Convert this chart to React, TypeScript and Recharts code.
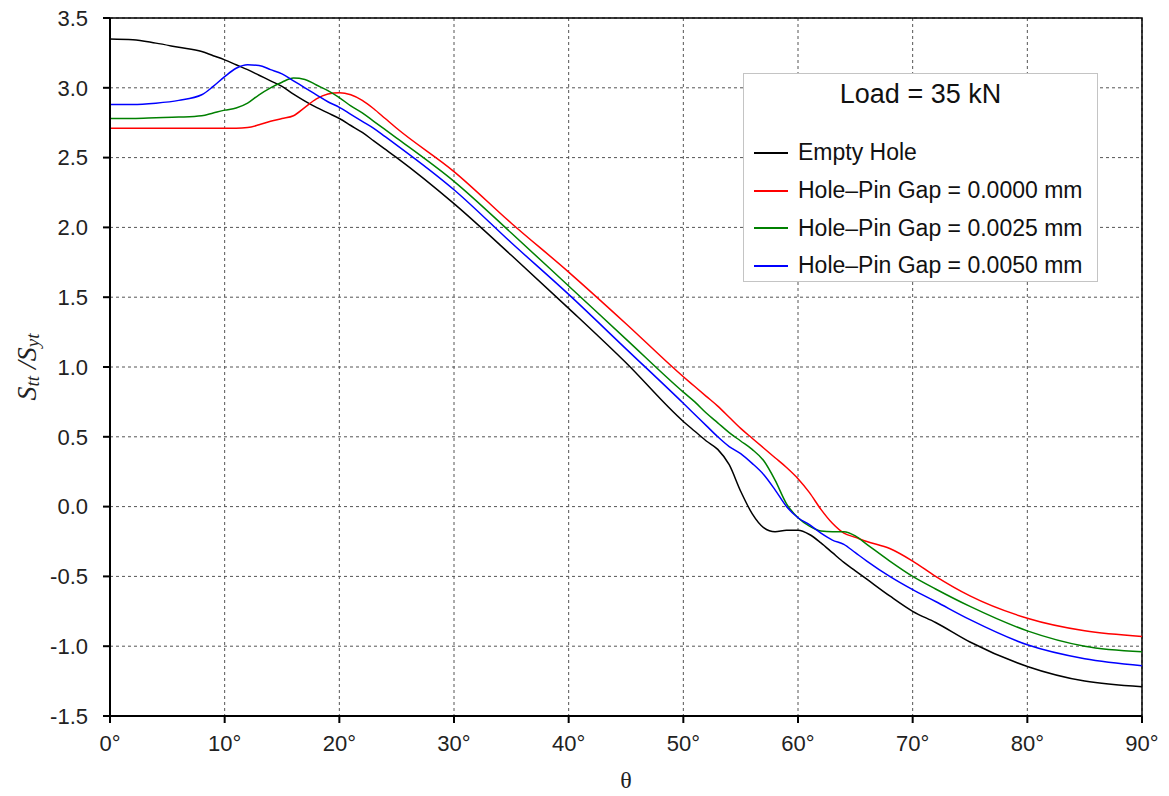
import {
  CartesianGrid,
  Legend,
  Line,
  LineChart,
  ReferenceArea,
  XAxis,
  YAxis,
} from "recharts";

// angle θ in degrees
const angles = [
  0, 2, 4, 6, 8, 9, 10, 11, 12, 13, 14, 15, 16, 17, 18, 19, 20, 21, 22, 23, 24, 25,
  30, 35, 40, 45, 50, 51, 52, 53, 54, 55, 56, 57, 58, 59, 60, 61, 62, 63, 64, 65, 66,
  68, 70, 72, 75, 80, 85, 90,
];

const emptyHole = [
  3.35, 3.345, 3.32, 3.29, 3.26, 3.23, 3.2, 3.165, 3.13, 3.09, 3.05, 3.01, 2.955, 2.905,
  2.86, 2.82, 2.78, 2.73, 2.68, 2.62, 2.56, 2.5, 2.17, 1.8, 1.42, 1.03, 0.61, 0.54,
  0.47, 0.41, 0.3, 0.11, -0.05, -0.15, -0.18, -0.17, -0.17, -0.2, -0.26, -0.33, -0.4,
  -0.46, -0.52, -0.64, -0.75, -0.83, -0.97, -1.145, -1.25, -1.29,
];

const gap0000 = [
  2.71, 2.71, 2.71, 2.71, 2.71, 2.71, 2.71, 2.71, 2.715, 2.735, 2.76, 2.78, 2.8, 2.86,
  2.92, 2.955, 2.965, 2.95, 2.91, 2.85, 2.78, 2.71, 2.4, 2.03, 1.68, 1.31, 0.93, 0.86,
  0.79, 0.72, 0.64, 0.56, 0.49, 0.42, 0.35, 0.28, 0.2, 0.1, -0.02, -0.12, -0.19,
  -0.22, -0.25, -0.3, -0.39, -0.5, -0.64, -0.8, -0.89, -0.93,
];

const gap0025 = [
  2.78, 2.78, 2.785, 2.79, 2.8, 2.82, 2.84, 2.855, 2.89, 2.95, 3.0, 3.04, 3.07, 3.06,
  3.02, 2.98, 2.93, 2.87, 2.82, 2.76, 2.7, 2.64, 2.33, 1.96, 1.58, 1.2, 0.82, 0.75,
  0.67, 0.6, 0.53, 0.47, 0.41, 0.33, 0.19, 0.02, -0.08, -0.14, -0.175, -0.18, -0.18,
  -0.21, -0.27, -0.39, -0.5, -0.59, -0.715, -0.89, -1.0, -1.04,
];

const gap0050 = [
  2.88, 2.88, 2.89, 2.91, 2.95, 3.01, 3.08, 3.14, 3.165, 3.16, 3.13, 3.1, 3.05, 3.0,
  2.95, 2.9, 2.86, 2.81, 2.76, 2.71, 2.65, 2.59, 2.27, 1.89, 1.52, 1.13, 0.74, 0.66,
  0.58, 0.5, 0.43, 0.38, 0.31, 0.23, 0.12, 0.0, -0.08, -0.13, -0.19, -0.24, -0.27,
  -0.33, -0.39, -0.5, -0.595, -0.68, -0.81, -0.99, -1.09, -1.14,
];

const xTicks = [0, 10, 20, 30, 40, 50, 60, 70, 80, 90];
const yTicks = [-1.5, -1, -0.5, 0, 0.5, 1, 1.5, 2, 2.5, 3, 3.5];

const data = angles.map((a, i) => ({
  angle: a,
  empty: emptyHole[i],
  g0000: gap0000[i],
  g0025: gap0025[i],
  g0050: gap0050[i],
}));

const sans = "'Liberation Sans', Arial, sans-serif";
const serif = "'Liberation Serif', 'Times New Roman', serif";

function YLabel(props: any) {
  const vb = props.viewBox || { y: 18, height: 698 };
  const cx = 26;
  const cy = vb.y + vb.height / 2;
  return (
    <text
      x={cx}
      y={cy}
      transform={`rotate(-90 ${cx} ${cy})`}
      textAnchor="middle"
      dominantBaseline="central"
      fontFamily={serif}
      fontStyle="italic"
      fontSize={28}
      fill="#222"
    >
      <tspan>S</tspan>
      <tspan fontSize={19} dy={6}>tt</tspan>
      <tspan dy={-6}> /S</tspan>
      <tspan fontSize={19} dy={6}>yt</tspan>
    </text>
  );
}

function LegendBox(props: any) {
  const items = props.payload || [];
  return (
    <div
      style={{
        width: 353,
        height: 207,
        background: "#fff",
        border: "1px solid #c4c4c4",
        fontFamily: sans,
        color: "#111",
      }}
    >
      <div style={{ textAlign: "center", fontSize: 27, marginTop: 5, height: 55 }}>
        Load = 35 kN
      </div>
      {items.map((it: any) => (
        <div
          key={it.value}
          style={{ display: "flex", alignItems: "center", height: 37.7, fontSize: 23 }}
        >
          <span
            style={{
              display: "inline-block",
              width: 34,
              height: 0,
              borderTop: `2px solid ${it.color}`,
              marginLeft: 10,
              marginRight: 10,
            }}
          />
          <span>{it.value}</span>
        </div>
      ))}
    </div>
  );
}

export default function App() {
  return (
    <div style={{ position: "absolute", left: 0, top: 0, background: "#fff" }}>
      <LineChart
        width={1169}
        height={796}
        data={data}
        margin={{ top: 18, right: 27, left: 0, bottom: 0 }}
      >
        <CartesianGrid stroke="#555" strokeDasharray="3 3" />
        <XAxis
          dataKey="angle"
          type="number"
          domain={[0, 90]}
          ticks={xTicks}
          tickFormatter={(v) => `${v}°`}
          height={80}
          tickSize={7}
          tickMargin={12}
          axisLine={{ stroke: "#000", strokeWidth: 2 }}
          tickLine={{ stroke: "#000", strokeWidth: 2 }}
          tick={{ fontSize: 22, fill: "#222", fontFamily: sans }}
          label={{
            value: "θ",
            position: "insideBottom",
            offset: 8,
            fontSize: 24,
            fill: "#222",
            fontFamily: serif,
          }}
        />
        <YAxis
          type="number"
          domain={[-1.5, 3.5]}
          ticks={yTicks}
          tickFormatter={(v) => v.toFixed(1)}
          width={110}
          tickSize={7}
          tickMargin={15}
          axisLine={{ stroke: "#000", strokeWidth: 2 }}
          tickLine={{ stroke: "#000", strokeWidth: 2 }}
          tick={{ fontSize: 22, fill: "#222", fontFamily: sans }}
          label={{ content: YLabel }}
        />
        <ReferenceArea
          x1={0}
          x2={90}
          y1={-1.5}
          y2={3.5}
          fill="none"
          stroke="#000"
          strokeWidth={1.5}
        />
        <Legend
          layout="vertical"
          align="center"
          verticalAlign="middle"
          content={LegendBox}
          wrapperStyle={{ left: 743, top: 73, width: 355, height: 209 }}
        />
        <Line type="monotone" dataKey="empty" name="Empty Hole" stroke="#000000" strokeWidth={1.5} dot={false} isAnimationActive={false} />
        <Line type="monotone" dataKey="g0000" name="Hole–Pin Gap = 0.0000 mm" stroke="#ff0000" strokeWidth={1.5} dot={false} isAnimationActive={false} />
        <Line type="monotone" dataKey="g0025" name="Hole–Pin Gap = 0.0025 mm" stroke="#008000" strokeWidth={1.5} dot={false} isAnimationActive={false} />
        <Line type="monotone" dataKey="g0050" name="Hole–Pin Gap = 0.0050 mm" stroke="#0000ff" strokeWidth={1.5} dot={false} isAnimationActive={false} />
      </LineChart>
    </div>
  );
}
